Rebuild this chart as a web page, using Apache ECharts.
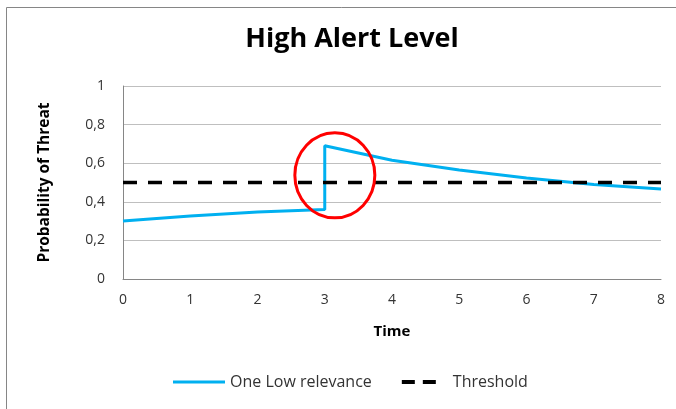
<!DOCTYPE html>
<html><head><meta charset="utf-8">
<script src="https://cdn.jsdelivr.net/npm/echarts@6/dist/echarts.min.js"></script>
<style>html,body{margin:0;padding:0;background:#fff}#c{width:676px;height:409px}</style>
</head><body><div id="c"></div>
<script>
const timeValues = [0, 1, 2, 3, 3, 4, 5, 6, 7, 8];
const lowRelevance = [0.30, 0.327, 0.347, 0.36, 0.69, 0.615, 0.565, 0.523, 0.49, 0.466];
const thresholdTimes = [0, 8];
const thresholdValues = [0.5, 0.5];
const seriesNames = ['One Low relevance', 'Threshold'];
const titleText = 'High Alert Level';
const xTitle = 'Time';
const yTitle = 'Probability of Threat';
const circleCenter = [3.15, 0.537];

const chart = echarts.init(document.getElementById('c'));
const font = 'Open Sans';
chart.setOption({
  animation: false,
  title: { text: titleText, left: 347, textAlign: 'center', top: 21,
    textStyle: { fontFamily: font, fontSize: 27, fontWeight: 'bold', color: '#000' } },
  grid: { left: 123, right: 15, top: 86, bottom: 130 },
  legend: { bottom: 14, left: 168, itemWidth: 52, itemHeight: 10, itemGap: 24,
    textStyle: { fontFamily: font, fontSize: 16, color: '#333' },
    data: [
      { name: seriesNames[0], icon: 'path://M0,4L52,4L52,7L0,7Z' },
      { name: seriesNames[1], icon: 'path://M0,3L0.01,3L0.01,3.01Z M52,7L51.99,7L51.99,6.99Z M6,3L19,3L19,7L6,7Z M27,3L40,3L40,7L27,7Z' }
    ] },
  xAxis: { type: 'value', min: 0, max: 8, interval: 1,
    name: xTitle, nameLocation: 'middle', nameGap: 45,
    nameTextStyle: { fontFamily: font, fontSize: 15, fontWeight: 'bold', color: '#000' },
    axisLine: { lineStyle: { color: '#868686' } }, axisTick: { show: false },
    axisLabel: { fontFamily: font, fontSize: 14, color: '#333', margin: 14 },
    splitLine: { show: false } },
  yAxis: { type: 'value', min: 0, max: 1, interval: 0.2,
    name: yTitle, nameLocation: 'middle', nameGap: 70, nameRotate: 90,
    nameTextStyle: { fontFamily: font, fontSize: 15.5, fontWeight: 'bold', color: '#000' },
    axisLine: { show: true, lineStyle: { color: '#868686' } }, axisTick: { show: false },
    axisLabel: { fontFamily: font, fontSize: 14, color: '#333', margin: 18,
      formatter: v => String(Math.round(v * 10) / 10).replace('.', ',') },
    splitLine: { lineStyle: { color: '#bfbfbf' } } },
  series: [
    { name: seriesNames[0], type: 'line', showSymbol: false, symbol: 'none',
      data: timeValues.map((t, i) => [t, lowRelevance[i]]),
      lineStyle: { color: '#00b0f0', width: 3 }, itemStyle: { color: '#00b0f0' }, z: 3 },
    { name: seriesNames[1], type: 'line', showSymbol: false, symbol: 'none',
      data: thresholdTimes.map((t, i) => [t, thresholdValues[i]]),
      lineStyle: { color: '#000', width: 3.5, type: [14, 11] }, itemStyle: { color: '#000' }, z: 4 }
  ]
});
const c = chart.convertToPixel({ gridIndex: 0 }, circleCenter);
chart.setOption({
  graphic: [
    { type: 'rect', shape: { x: 6.5, y: 7.5, width: 720, height: 450 }, style: { fill: 'none', stroke: '#868686', lineWidth: 1 }, silent: true, z: -1 },
    { type: 'ellipse', shape: { cx: c[0], cy: c[1], rx: 40, ry: 42.5 }, style: { fill: 'none', stroke: '#ff0000', lineWidth: 3 }, z: 100 }
  ]
});
</script></body></html>
